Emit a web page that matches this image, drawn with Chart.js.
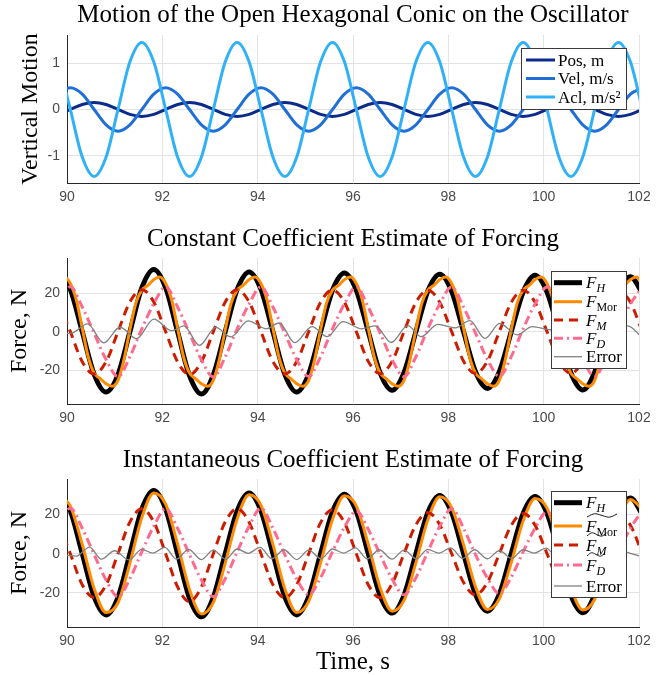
<!DOCTYPE html>
<html><head><meta charset="utf-8">
<script src="https://cdn.jsdelivr.net/npm/chart.js@4.4.1/dist/chart.umd.min.js"></script>
<style>
html,body{margin:0;padding:0;background:#fff;}
#wrap{position:relative;width:669px;height:675px;overflow:hidden;}
.panel{position:absolute;left:0;width:669px;}
canvas{display:block;}
</style></head><body>
<div id="wrap">
<div class="panel" style="top:0;height:215px"><canvas id="c1" width="669" height="215"></canvas></div>
<div class="panel" style="top:215px;height:225px"><canvas id="c2" width="669" height="225"></canvas></div>
<div class="panel" style="top:440px;height:235px"><canvas id="c3" width="669" height="235"></canvas></div>
</div>
<script>
// ---------- tick labels / titles ----------
const xTicks = [90, 92, 94, 96, 98, 100, 102];
const motionTicks = [-1, 0, 1];
const forceTicks = [-20, 0, 20];
const panelTitles = ['Motion of the Open Hexagonal Conic on the Oscillator',
  'Constant Coefficient Estimate of Forcing',
  'Instantaneous Coefficient Estimate of Forcing'];
const motionLabels = ['Pos, m', 'Vel, m/s', 'Acl, m/s\u00B2'];
const forceLabels = ['F_H', 'F_Mor', 'F_M', 'F_D', 'Error'];
const instLabels = ['F_H', '~F_Mor', '~F_M', '~F_D', 'Error'];

// ---------- time samples (s) ----------
const timeCoarse = [89.82, 90.07, 90.32, 90.57, 90.82, 91.07, 91.32, 91.57, 91.82, 92.07,
  92.32, 92.57, 92.82, 93.07, 93.32, 93.57, 93.82, 94.07, 94.32, 94.57,
  94.82, 95.07, 95.32, 95.57, 95.82, 96.07, 96.32, 96.57, 96.82, 97.07,
  97.32, 97.57, 97.82, 98.07, 98.32, 98.57, 98.82, 99.07, 99.32, 99.57,
  99.82, 100.07, 100.32, 100.57, 100.82, 101.07, 101.32, 101.57, 101.82, 102.07];
const timeFine = [89.82, 89.945, 90.07, 90.195, 90.32, 90.445, 90.57, 90.695, 90.82, 90.945,
  91.07, 91.195, 91.32, 91.445, 91.57, 91.695, 91.82, 91.945, 92.07, 92.195,
  92.32, 92.445, 92.57, 92.695, 92.82, 92.945, 93.07, 93.195, 93.32, 93.445,
  93.57, 93.695, 93.82, 93.945, 94.07, 94.195, 94.32, 94.445, 94.57, 94.695,
  94.82, 94.945, 95.07, 95.195, 95.32, 95.445, 95.57, 95.695, 95.82, 95.945,
  96.07, 96.195, 96.32, 96.445, 96.57, 96.695, 96.82, 96.945, 97.07, 97.195,
  97.32, 97.445, 97.57, 97.695, 97.82, 97.945, 98.07, 98.195, 98.32, 98.445,
  98.57, 98.695, 98.82, 98.945, 99.07, 99.195, 99.32, 99.445, 99.57, 99.695,
  99.82, 99.945, 100.07, 100.195, 100.32, 100.445, 100.57, 100.695, 100.82, 100.945,
  101.07, 101.195, 101.32, 101.445, 101.57, 101.695, 101.82, 101.945, 102.07];

// ---------- panel 1: motion ----------
const position = [-0.106, 0, 0.106, 0.15, 0.106, 0, -0.106, -0.15,
  -0.106, 0, 0.106, 0.15, 0.106, 0, -0.106, -0.15,
  -0.106, 0, 0.106, 0.15, 0.106, 0, -0.106, -0.15,
  -0.106, 0, 0.106, 0.15, 0.106, 0, -0.106, -0.15,
  -0.106, 0, 0.106, 0.15, 0.106, 0, -0.106, -0.15,
  -0.106, 0, 0.106, 0.15, 0.106, 0, -0.106, -0.15,
  -0.106, 0];
const velocity = [0.332, 0.47, 0.332, 0, -0.332, -0.47, -0.332, 0,
  0.332, 0.47, 0.332, 0, -0.332, -0.47, -0.332, 0,
  0.332, 0.47, 0.332, 0, -0.332, -0.47, -0.332, 0,
  0.332, 0.47, 0.332, 0, -0.332, -0.47, -0.332, 0,
  0.332, 0.47, 0.332, 0, -0.332, -0.47, -0.332, 0,
  0.332, 0.47, 0.332, 0, -0.332, -0.47, -0.332, 0,
  0.332, 0.47];
const acceleration = [1.03, 0, -1.03, -1.45, -1.03, 0, 1.03, 1.45,
  1.03, 0, -1.03, -1.45, -1.03, 0, 1.03, 1.45,
  1.03, 0, -1.03, -1.45, -1.03, 0, 1.03, 1.45,
  1.03, 0, -1.03, -1.45, -1.03, 0, 1.03, 1.45,
  1.03, 0, -1.03, -1.45, -1.03, 0, 1.03, 1.45,
  1.03, 0, -1.03, -1.45, -1.03, 0, 1.03, 1.45,
  1.03, 0];

// ---------- measured hydrodynamic force (both force panels) ----------
const forceHydro = [31, 21.9, 0, -22.1, -31.3, -22.3, 0, 22.8, 32.3, 22.8,
  0, -22.8, -32.3, -22.4, 0, 21.9, 31, 21.9, 0, -22.1,
  -31.3, -22, 0, 21.5, 30.4, 21.5, 0, -21.5, -30.4, -21.3,
  0, 21.1, 29.8, 21, 0, -20.8, -29.4, -20.7, 0, 20.6,
  29.2, 20.6, 0, -21.3, -30.2, -21, 0, 20.2, 28.5, 20.2];

// ---------- panel 2: constant coefficients ----------
const forceMorisonConst = [27, 28.4, 25, 16.5, 1.7, -13, -21.5, -24.3, -27, -28.3, -25.2, -14.5, 1.0, 14.8, 21.5, 24,
  27, 28.4, 25, 16.5, 1.7, -13, -21.5, -24.3, -27, -28.3, -25.2, -14.5, 1.0, 14.8, 21.5, 24,
  27, 28.4, 25, 16.5, 1.7, -13, -21.5, -24.3, -27, -28.3, -25.2, -14.5, 1.0, 14.8, 21.5, 24,
  27, 28.4, 25, 16.5, 1.7, -13, -21.5, -24.3, -27, -28.3, -25.2, -14.5, 1.0, 14.8, 21.5, 24,
  27, 28.4, 25, 16.5, 1.7, -13, -21.5, -24.3, -27, -28.3, -25.2, -14.5, 1.0, 14.8, 21.5, 24,
  27, 28.4, 25, 16.5, 1.7, -13, -21.5, -24.3, -27, -28.3, -25.2, -14.5, 1.0, 14.8, 21.5, 24,
  27, 28.4, 25];
const forceInertiaConst = [15.6, 0, -15.6, -22, -15.6, 0, 15.4, 21.8,
  15.4, 0, -15.7, -22.2, -15.6, 0, 15.4, 21.8,
  15.4, 0, -15.5, -21.9, -15.5, 0, 15.3, 21.6,
  15.3, 0, -15.4, -21.8, -15.4, 0, 15.2, 21.5,
  15.2, 0, -15.3, -21.7, -15.3, 0, 15.2, 21.5,
  15.2, 0, -15.3, -21.6, -15.3, 0, 15.2, 21.5,
  15.2, 0];
const forceDragConst = [14.5, 23.3, 12.8, -0.8, -14.5, -23.3, -13, 1.5,
  14.5, 23.3, 12.8, -0.8, -14.6, -23.5, -13, 1.5,
  14.4, 23.2, 12.8, -0.8, -14.5, -23.3, -13, 1.5,
  14.4, 23.2, 12.7, -0.8, -14.5, -23.3, -13, 1.5,
  14.4, 23.2, 12.7, -0.8, -14.4, -23.2, -12.9, 1.5,
  14.3, 23.1, 12.7, -0.8, -14.4, -23.2, -12.9, 1.5,
  14.3, 23.1];
const errorConstTime = [90, 90.12, 90.43, 90.77, 91.11, 91.46, 91.82, 92.2, 92.45, 92.78,
  93.12, 93.44, 93.8, 94.18, 94.45, 94.78, 95.14, 95.46, 95.79, 96.18,
  96.47, 96.8, 97.15, 97.43, 97.78, 98.15, 98.45, 98.77, 99.08, 99.44,
  99.76, 100.15, 100.45, 100.78, 101.1, 101.45, 101.76, 102.05];
const errorConstValue = [-0.9, -0.6, 4, -5.8, 2.3, -3.6, 6.5, 0.5, 3, -7.1,
  2.2, -2.7, 5.6, 1.5, 4.5, -5.7, 2.6, -2.6, 5.2, 1.5,
  3, -5.6, 3.1, -2.6, 3.8, 2, 5.7, -3.5, 4.3, -1.7,
  2.6, 1, 3.5, -4.5, 3, -2, 3, -2.5];

// ---------- panel 3: instantaneous coefficients ----------
const forceMorisonInst = [29.6, 24.3, 4.7, -17.9, -30.1, -25.1, -4.8, 18.5, 31.1, 25.3,
  4.9, -18.3, -30.8, -24.9, -4.8, 17.9, 30.1, 24.7, 4.8, -17.9,
  -30.1, -24.4, -4.7, 17.6, 29.6, 24.3, 4.7, -17.5, -29.4, -23.9,
  -4.6, 17.3, 29.1, 23.6, 4.5, -16.9, -28.5, -23.1, -4.5, 16.8,
  28.2, 23.3, 4.5, -17.2, -28.8, -23.3, -4.4, 16.5, 27.7, 22.7];
const forceInertiaInst = [15.6, 0, -15.9, -22.5, -16, 0, 16.2, 23,
  16.3, 0, -17, -24.5, -17, 0, 16.3, 23,
  16.1, 0, -15.9, -22.5, -15.9, 0, 15.9, 22.5,
  15.9, 0, -15.9, -22.5, -15.4, 0, 14.8, 21,
  14.8, 0, -14.8, -21, -14.7, 0, 14.5, 20.5,
  14.5, 0, -14.8, -21, -14.7, 0, 14.5, 20.5,
  14.5, 0];
const forceDragInst = [14, 23.3, 13, -0.5, -13.5, -22, -12.8, 1,
  14, 23, 13, -0.5, -13.5, -22, -12.8, 1,
  14, 23.3, 13, -0.5, -13, -21, -12.3, 1,
  13.5, 21.8, 12.5, -0.5, -13, -21, -12.3, 1,
  14, 23, 13, -0.5, -12.5, -20.3, -12, 1,
  13, 21.5, 12.3, -0.5, -12.8, -21, -12.3, 1,
  13, 22];
const errorInstTime = [90, 90.2, 90.47, 90.72, 91.0, 91.3, 91.57, 91.8, 92.05, 92.3,
  92.55, 92.82, 93.07, 93.33, 93.57, 93.8, 94.05, 94.3, 94.55, 94.82,
  95.07, 95.33, 95.57, 95.8, 96.05, 96.3, 96.55, 96.82, 97.07, 97.33,
  97.57, 97.8, 98.05, 98.3, 98.55, 98.82, 99.07, 99.33, 99.57, 99.8,
  100.05, 100.3, 100.55, 100.82, 101.07, 101.33, 101.57, 101.8, 102.05];
const errorInstValue = [-0.9, -1.2, 3.4, -2.8, 1.5, -3.2, 2.2, 0.3, 3.2, -2.8,
  2.2, -3, 1.8, -2.8, 2.4, 0.2, 3.2, -2.6, 2, -3,
  1.8, -2.6, 2.4, 0.3, 3, -2.6, 2, -2.8, 1.8, -2.6,
  2.2, 0.3, 3, -2.4, 2, -2.6, 1.6, -2.4, 2, 0.3,
  2.8, -2.2, 1.8, -2.6, 1.6, -2.4, 2, 0.3, -1.5];

// ---------- styling ----------
const SERIF = '"Liberation Serif", "Times New Roman", serif';
const SANS = '"Liberation Sans", Arial, sans-serif';
const GRID = '#e3e3e3';
const AXIS = '#262626';
const TICK = '#4a4a4a';

function pts(t, v) { return t.map((x, i) => ({ x: x, y: v[i] })); }

function makeLegend(cfg) {
  return {
    id: 'mathLegend',
    afterDraw(chart) {
      const ctx = chart.ctx;
      const b = cfg.box;
      ctx.save();
      ctx.setLineDash([]);
      ctx.fillStyle = '#ffffff';
      ctx.fillRect(b.x, b.y, b.w, b.h);
      ctx.strokeStyle = '#3a3a3a';
      ctx.lineWidth = 1;
      ctx.strokeRect(b.x + 0.5, b.y + 0.5, b.w, b.h);
      cfg.items.forEach((it, k) => {
        const ds = chart.data.datasets[it.ds];
        const y = cfg.rows[k];
        ctx.beginPath();
        ctx.strokeStyle = ds.borderColor;
        ctx.lineWidth = ds.borderWidth;
        ctx.setLineDash(ds.borderDash || []);
        ctx.moveTo(cfg.lineX[0], y);
        ctx.lineTo(cfg.lineX[1], y);
        ctx.stroke();
        ctx.setLineDash([]);
        let x = cfg.textX;
        const base = y + cfg.size * 0.33;
        ctx.fillStyle = '#000';
        ctx.textBaseline = 'alphabetic';
        ctx.textAlign = 'left';
        it.parts.forEach(p => {
          const txt = p[0], st = p[1];
          const sub = (st === 'si' || st === 's');
          const ital = (st === 'i' || st === 'si');
          const sz = sub ? cfg.subSize : cfg.size;
          ctx.font = (ital ? 'italic ' : '') + sz + 'px ' + SERIF;
          ctx.fillText(txt, x, base + (sub ? cfg.subDrop : 0));
          x += ctx.measureText(txt).width;
        });
        if (it.tilde) {
          const x0 = cfg.textX + 1, x1 = x, w = x1 - x0, ty = base - cfg.size * 0.95;
          ctx.beginPath();
          ctx.lineWidth = 0.9;
          ctx.strokeStyle = '#000';
          ctx.moveTo(x0, ty + 1.5);
          ctx.bezierCurveTo(x0 + w * 0.25, ty - 2.5, x0 + w * 0.25, ty - 2.5, x0 + w * 0.5, ty);
          ctx.bezierCurveTo(x0 + w * 0.75, ty + 2.5, x0 + w * 0.75, ty + 2.5, x1, ty - 1.5);
          ctx.stroke();
        }
      });
      ctx.restore();
    }
  };
}

function baseOptions(o) {
  return {
    responsive: false,
    animation: false,
    devicePixelRatio: 1,
    layout: { padding: { left: 0, right: 30, top: 0, bottom: 0 } },
    elements: { point: { radius: 0 }, line: { cubicInterpolationMode: 'monotone', borderCapStyle: 'butt' } },
    plugins: {
      legend: { display: false },
      tooltip: { enabled: false },
      title: {
        display: true, text: o.title, color: '#000', fullSize: false,
        font: { family: SERIF, size: 25, weight: 'normal', lineHeight: 1.2 },
        padding: { top: o.titleTop, bottom: o.titleBottom }
      }
    },
    scales: {
      x: {
        type: 'linear', min: 90, max: 102,
        afterBuildTicks: s => { s.ticks = xTicks.map(v => ({ value: v })); },
        afterFit: s => { s.height = o.xHeight; },
        ticks: { font: { family: SANS, size: 14 }, color: TICK, padding: 6, maxRotation: 0, callback: v => String(v) },
        grid: { color: GRID, lineWidth: 1, drawTicks: false },
        border: { display: true, color: AXIS, width: 1 },
        title: o.xTitle ? { display: true, text: o.xTitle, color: '#000',
          font: { family: SERIF, size: 25, weight: 'normal', lineHeight: 1 }, padding: { top: 0, bottom: 0 } } : { display: false }
      },
      y: {
        type: 'linear', min: o.yMin, max: o.yMax,
        afterBuildTicks: s => { s.ticks = o.yTicks.map(v => ({ value: v })); },
        afterFit: s => { s.width = 67; },
        ticks: { font: { family: SANS, size: 14 }, color: TICK, padding: 7, callback: v => String(v) },
        grid: { color: GRID, lineWidth: 1, drawTicks: false },
        border: { display: true, color: AXIS, width: 1 },
        title: { display: true, text: o.yTitle, color: '#000',
          font: { family: SERIF, size: 24, weight: 'normal', lineHeight: 1.2 }, padding: { top: o.yTitlePad, bottom: 0 } }
      }
    }
  };
}

// ---------- panel 1 ----------
new Chart(document.getElementById('c1'), {
  type: 'line',
  data: { datasets: [
    { label: motionLabels[0], data: pts(timeCoarse, position), borderColor: '#0c2a8a', borderWidth: 3, order: 3, fill: false },
    { label: motionLabels[1], data: pts(timeCoarse, velocity), borderColor: '#1f6fd6', borderWidth: 3, order: 2, fill: false },
    { label: motionLabels[2], data: pts(timeCoarse, acceleration), borderColor: '#30b1f7', borderWidth: 3, order: 1, fill: false }
  ] },
  options: baseOptions({ title: panelTitles[0], titleTop: 0, titleBottom: 5, xHeight: 32,
    yMin: -1.59, yMax: 1.61, yTicks: motionTicks, yTitle: 'Vertical Motion', yTitlePad: 16 }),
  plugins: [makeLegend({ box: { x: 521, y: 48, w: 105, h: 61 }, rows: [60, 78.5, 97], lineX: [526, 555], textX: 558,
    size: 17, subSize: 12, subDrop: 4,
    items: [ { ds: 0, parts: [[motionLabels[0], 'n']] }, { ds: 1, parts: [[motionLabels[1], 'n']] }, { ds: 2, parts: [[motionLabels[2], 'n']] } ] })]
});

function forceDatasets(morT, mor, inertia, drag, errT, errV, labels) {
  return [
    { label: labels[0], data: pts(timeCoarse, forceHydro), borderColor: '#000000', borderWidth: 5, order: 5, fill: false },
    { label: labels[1], data: pts(morT, mor), borderColor: '#ff8c00', borderWidth: 3, order: 4, fill: false },
    { label: labels[2], data: pts(timeCoarse, inertia), borderColor: '#cc1c00', borderWidth: 3, borderDash: [9, 6], order: 3, fill: false },
    { label: labels[3], data: pts(timeCoarse, drag), borderColor: '#ff6b8e', borderWidth: 3, borderDash: [9, 4, 2, 4], order: 2, fill: false },
    { label: labels[4], data: pts(errT, errV), borderColor: '#808080', borderWidth: 1.3, order: 1, fill: false }
  ];
}

// ---------- panel 2 ----------
new Chart(document.getElementById('c2'), {
  type: 'line',
  data: { datasets: forceDatasets(timeFine, forceMorisonConst, forceInertiaConst, forceDragConst, errorConstTime, errorConstValue, forceLabels) },
  options: baseOptions({ title: panelTitles[1], titleTop: 9, titleBottom: 4, xHeight: 36,
    yMin: -37.5, yMax: 38.2, yTicks: forceTicks, yTitle: 'Force, N', yTitlePad: 5 }),
  plugins: [makeLegend({ box: { x: 551, y: 56, w: 75, h: 97 }, rows: [67.7, 86.7, 105, 123.3, 141.7], lineX: [554, 582], textX: 586,
    size: 17, subSize: 12, subDrop: 4,
    items: [
      { ds: 0, parts: [['F', 'i'], ['H', 'si']] },
      { ds: 1, parts: [['F', 'i'], ['Mor', 's']] },
      { ds: 2, parts: [['F', 'i'], ['M', 'si']] },
      { ds: 3, parts: [['F', 'i'], ['D', 'si']] },
      { ds: 4, parts: [['Error', 'n']] } ] })]
});

// ---------- panel 3 ----------
new Chart(document.getElementById('c3'), {
  type: 'line',
  data: { datasets: forceDatasets(timeCoarse, forceMorisonInst, forceInertiaInst, forceDragInst, errorInstTime, errorInstValue, instLabels) },
  options: baseOptions({ title: panelTitles[2], titleTop: 5, titleBottom: 4, xHeight: 48, xTitle: 'Time, s',
    yMin: -37.5, yMax: 38.2, yTicks: forceTicks, yTitle: 'Force, N', yTitlePad: 5 }),
  plugins: [makeLegend({ box: { x: 551, y: 51, w: 75, h: 106 }, rows: [62.7, 86, 105, 125, 146], lineX: [554, 582], textX: 586,
    size: 17, subSize: 12, subDrop: 4,
    items: [
      { ds: 0, parts: [['F', 'i'], ['H', 'si']] },
      { ds: 1, parts: [['F', 'i'], ['Mor', 's']], tilde: true },
      { ds: 2, parts: [['F', 'i'], ['M', 'si']], tilde: true },
      { ds: 3, parts: [['F', 'i'], ['D', 'si']], tilde: true },
      { ds: 4, parts: [['Error', 'n']] } ] })]
});
</script>
</body></html>
